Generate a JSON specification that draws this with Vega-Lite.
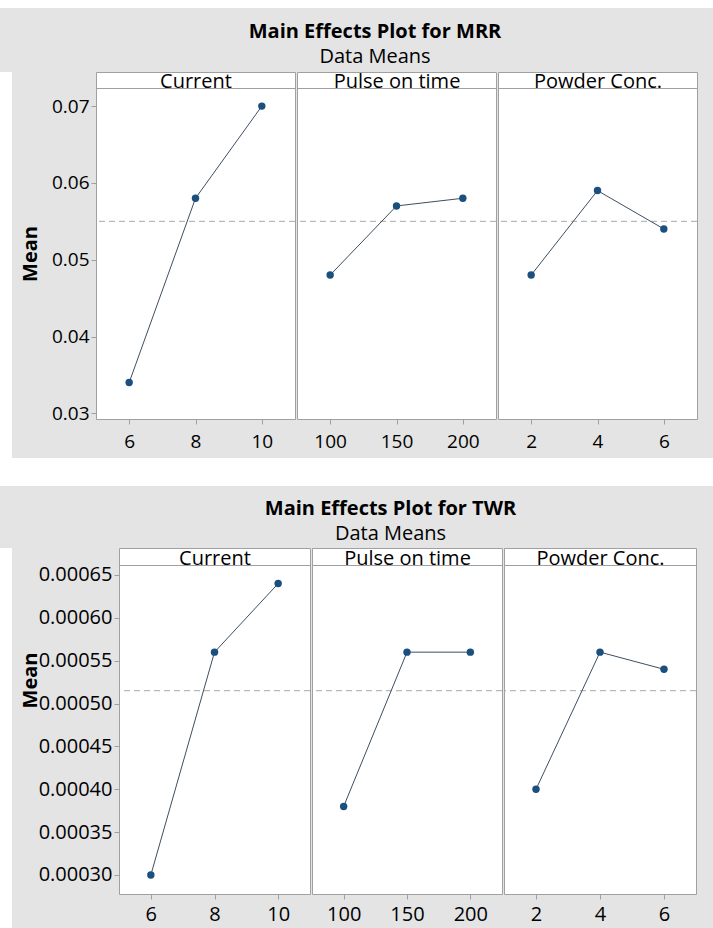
{
  "$schema": "https://vega.github.io/schema/vega-lite/v6.json",
  "padding": 0,
  "background": "#e4e4e4",
  "config": {
    "font": "Open Sans",
    "view": {"fill": null, "stroke": null},
    "axis": {"grid": false, "domain": false, "tickColor": "#a0a0a0", "tickSize": 5, "labelColor": "black", "titleColor": "black"}
  },
  "datasets": {
    "mrr": [
      {"factor": "Current", "level": 6, "mean": 0.034},
      {"factor": "Current", "level": 8, "mean": 0.058},
      {"factor": "Current", "level": 10, "mean": 0.070},
      {"factor": "Pulse on time", "level": 100, "mean": 0.048},
      {"factor": "Pulse on time", "level": 150, "mean": 0.057},
      {"factor": "Pulse on time", "level": 200, "mean": 0.058},
      {"factor": "Powder Conc.", "level": 2, "mean": 0.048},
      {"factor": "Powder Conc.", "level": 4, "mean": 0.059},
      {"factor": "Powder Conc.", "level": 6, "mean": 0.054}
    ],
    "twr": [
      {"factor": "Current", "level": 6, "mean": 0.00030},
      {"factor": "Current", "level": 8, "mean": 0.00056},
      {"factor": "Current", "level": 10, "mean": 0.00064},
      {"factor": "Pulse on time", "level": 100, "mean": 0.00038},
      {"factor": "Pulse on time", "level": 150, "mean": 0.00056},
      {"factor": "Pulse on time", "level": 200, "mean": 0.00056},
      {"factor": "Powder Conc.", "level": 2, "mean": 0.00040},
      {"factor": "Powder Conc.", "level": 4, "mean": 0.00056},
      {"factor": "Powder Conc.", "level": 6, "mean": 0.00054}
    ],
    "grand": [
      {"response": "MRR", "value": 0.055},
      {"response": "TWR", "value": 0.000515}
    ],
    "blank": [{}]
  },
  "spacing": 0,
  "vconcat": [
    {"width": 713, "height": 8, "data": {"name": "blank"}, "mark": {"type": "point", "opacity": 0}, "view": {"fill": "white"}},
    {"width": 713, "height": 13, "data": {"name": "blank"}, "mark": {"type": "point", "opacity": 0}},
    {
      "spacing": 0,
      "title": {"text": "Main Effects Plot for MRR", "subtitle": "Data Means", "anchor": "middle", "frame": "bounds", "fontSize": 20, "fontWeight": "bold", "color": "black", "subtitleFontSize": 20, "subtitleColor": "black", "subtitlePadding": 5, "offset": 4, "dx": 26},
      "hconcat": [
        {"width": 12, "height": 386, "data": {"name": "blank"}, "mark": {"type": "point", "opacity": 0}, "view": {"fill": "white"}},
        {"width": 7, "height": 386, "data": {"name": "blank"}, "mark": {"type": "point", "opacity": 0}},
        {"width": 199, "height": 347, "view": {"fill": "white", "stroke": "#a0a0a0"},
         "data": {"name": "mrr"}, "transform": [{"filter": "datum.factor === 'Current'"}],
         "resolve": {"axis": {"x": "independent"}},
         "layer": [
           {"data": {"name": "grand"}, "transform": [{"filter": "datum.response === 'MRR'"}],
            "mark": {"type": "rule", "strokeDash": [6, 4], "color": "#a8a8a8", "strokeWidth": 1},
            "encoding": {"y": {"field": "value", "type": "quantitative", "scale": {"domain": [0.029258, 0.07444], "nice": false, "zero": false},
              "axis": {"title": "Mean", "titleFontSize": 20, "titleFontWeight": "bold", "titlePadding": 11, "titleY": 181.5, "labelFontSize": 19, "labelPadding": 2, "values": [0.03, 0.04, 0.05, 0.06, 0.07], "format": ".2f"}}}},
           {"mark": {"type": "line", "color": "#3d4f63", "strokeWidth": 1},
            "encoding": {
              "x": {"field": "level", "type": "ordinal", "scale": {"type": "point", "padding": 0.5},
                "axis": {"orient": "top", "offset": -16, "title": "Current", "labels": false, "ticks": false, "domain": true, "domainColor": "#a0a0a0", "titleFontSize": 20, "titleFontWeight": "normal", "titlePadding": -3}},
              "y": {"field": "mean", "type": "quantitative", "scale": {"domain": [0.029258, 0.07444], "nice": false, "zero": false},
                "axis": {"title": "Mean", "titleFontSize": 20, "titleFontWeight": "bold", "titlePadding": 11, "titleY": 181.5, "labelFontSize": 19, "labelPadding": 2, "values": [0.03, 0.04, 0.05, 0.06, 0.07], "format": ".2f"}}}},
           {"mark": {"type": "point", "filled": true, "size": 55, "color": "#1b4f7e", "opacity": 1},
            "encoding": {
              "x": {"field": "level", "type": "ordinal", "scale": {"type": "point", "padding": 0.5}, "axis": {"orient": "bottom", "title": null, "labelAngle": 0, "labelFontSize": 19, "labelPadding": 8}},
              "y": {"field": "mean", "type": "quantitative", "scale": {"domain": [0.029258, 0.07444], "nice": false, "zero": false},
                "axis": {"title": "Mean", "titleFontSize": 20, "titleFontWeight": "bold", "titlePadding": 11, "titleY": 181.5, "labelFontSize": 19, "labelPadding": 2, "values": [0.03, 0.04, 0.05, 0.06, 0.07], "format": ".2f"}}}}
         ]},
        {"width": 199, "height": 347, "view": {"fill": "white", "stroke": "#a0a0a0"},
         "data": {"name": "mrr"}, "transform": [{"filter": "datum.factor === 'Pulse on time'"}],
         "resolve": {"axis": {"x": "independent"}},
         "layer": [
           {"data": {"name": "grand"}, "transform": [{"filter": "datum.response === 'MRR'"}],
            "mark": {"type": "rule", "strokeDash": [6, 4], "color": "#a8a8a8", "strokeWidth": 1},
            "encoding": {"y": {"field": "value", "type": "quantitative", "scale": {"domain": [0.029258, 0.07444], "nice": false, "zero": false}, "axis": null}}},
           {"mark": {"type": "line", "color": "#3d4f63", "strokeWidth": 1},
            "encoding": {
              "x": {"field": "level", "type": "ordinal", "scale": {"type": "point", "padding": 0.5},
                "axis": {"orient": "top", "offset": -16, "title": "Pulse on time", "labels": false, "ticks": false, "domain": true, "domainColor": "#a0a0a0", "titleFontSize": 20, "titleFontWeight": "normal", "titlePadding": -3}},
              "y": {"field": "mean", "type": "quantitative", "scale": {"domain": [0.029258, 0.07444], "nice": false, "zero": false}, "axis": null}}},
           {"mark": {"type": "point", "filled": true, "size": 55, "color": "#1b4f7e", "opacity": 1},
            "encoding": {
              "x": {"field": "level", "type": "ordinal", "scale": {"type": "point", "padding": 0.5}, "axis": {"orient": "bottom", "title": null, "labelAngle": 0, "labelFontSize": 19, "labelPadding": 8}},
              "y": {"field": "mean", "type": "quantitative", "scale": {"domain": [0.029258, 0.07444], "nice": false, "zero": false}, "axis": null}}}
         ]},
        {"width": 199, "height": 347, "view": {"fill": "white", "stroke": "#a0a0a0"},
         "data": {"name": "mrr"}, "transform": [{"filter": "datum.factor === 'Powder Conc.'"}],
         "resolve": {"axis": {"x": "independent"}},
         "layer": [
           {"data": {"name": "grand"}, "transform": [{"filter": "datum.response === 'MRR'"}],
            "mark": {"type": "rule", "strokeDash": [6, 4], "color": "#a8a8a8", "strokeWidth": 1},
            "encoding": {"y": {"field": "value", "type": "quantitative", "scale": {"domain": [0.029258, 0.07444], "nice": false, "zero": false}, "axis": null}}},
           {"mark": {"type": "line", "color": "#3d4f63", "strokeWidth": 1},
            "encoding": {
              "x": {"field": "level", "type": "ordinal", "scale": {"type": "point", "padding": 0.5},
                "axis": {"orient": "top", "offset": -16, "title": "Powder Conc.", "labels": false, "ticks": false, "domain": true, "domainColor": "#a0a0a0", "titleFontSize": 20, "titleFontWeight": "normal", "titlePadding": -3}},
              "y": {"field": "mean", "type": "quantitative", "scale": {"domain": [0.029258, 0.07444], "nice": false, "zero": false}, "axis": null}}},
           {"mark": {"type": "point", "filled": true, "size": 55, "color": "#1b4f7e", "opacity": 1},
            "encoding": {
              "x": {"field": "level", "type": "ordinal", "scale": {"type": "point", "padding": 0.5}, "axis": {"orient": "bottom", "title": null, "labelAngle": 0, "labelFontSize": 19, "labelPadding": 8}},
              "y": {"field": "mean", "type": "quantitative", "scale": {"domain": [0.029258, 0.07444], "nice": false, "zero": false}, "axis": null}}}
         ]}
      ]
    },
    {"width": 713, "height": 28, "data": {"name": "blank"}, "mark": {"type": "point", "opacity": 0}, "view": {"fill": "white"}},
    {"width": 713, "height": 12, "data": {"name": "blank"}, "mark": {"type": "point", "opacity": 0}},
    {
      "spacing": 0,
      "title": {"text": "Main Effects Plot for TWR", "subtitle": "Data Means", "anchor": "middle", "frame": "bounds", "fontSize": 20, "fontWeight": "bold", "color": "black", "subtitleFontSize": 20, "subtitleColor": "black", "subtitlePadding": 5, "offset": 4, "dx": 42},
      "hconcat": [
        {"width": 12, "height": 380, "data": {"name": "blank"}, "mark": {"type": "point", "opacity": 0}, "view": {"fill": "white"}},
        {"width": 7, "height": 380, "data": {"name": "blank"}, "mark": {"type": "point", "opacity": 0}},
        {"width": 191, "height": 346, "view": {"fill": "white", "stroke": "#a0a0a0"},
         "data": {"name": "twr"}, "transform": [{"filter": "datum.factor === 'Current'"}],
         "resolve": {"axis": {"x": "independent"}},
         "layer": [
           {"data": {"name": "grand"}, "transform": [{"filter": "datum.response === 'TWR'"}],
            "mark": {"type": "rule", "strokeDash": [6, 4], "color": "#a8a8a8", "strokeWidth": 1},
            "encoding": {"y": {"field": "value", "type": "quantitative", "scale": {"domain": [0.00027783, 0.0006815], "nice": false, "zero": false},
              "axis": {"title": "Mean", "titleFontSize": 20, "titleFontWeight": "bold", "titlePadding": -2, "titleY": 132, "labelFontSize": 20, "labelPadding": 2, "values": [0.0003, 0.00035, 0.0004, 0.00045, 0.0005, 0.00055, 0.0006, 0.00065], "format": ".5f"}}}},
           {"mark": {"type": "line", "color": "#3d4f63", "strokeWidth": 1},
            "encoding": {
              "x": {"field": "level", "type": "ordinal", "scale": {"type": "point", "padding": 0.5},
                "axis": {"orient": "top", "offset": -17, "title": "Current", "labels": false, "ticks": false, "domain": true, "domainColor": "#a0a0a0", "titleFontSize": 20, "titleFontWeight": "normal", "titlePadding": -3}},
              "y": {"field": "mean", "type": "quantitative", "scale": {"domain": [0.00027783, 0.0006815], "nice": false, "zero": false},
                "axis": {"title": "Mean", "titleFontSize": 20, "titleFontWeight": "bold", "titlePadding": -2, "titleY": 132, "labelFontSize": 20, "labelPadding": 2, "values": [0.0003, 0.00035, 0.0004, 0.00045, 0.0005, 0.00055, 0.0006, 0.00065], "format": ".5f"}}}},
           {"mark": {"type": "point", "filled": true, "size": 55, "color": "#1b4f7e", "opacity": 1},
            "encoding": {
              "x": {"field": "level", "type": "ordinal", "scale": {"type": "point", "padding": 0.5}, "axis": {"orient": "bottom", "title": null, "labelAngle": 0, "labelFontSize": 20, "labelPadding": 5.5}},
              "y": {"field": "mean", "type": "quantitative", "scale": {"domain": [0.00027783, 0.0006815], "nice": false, "zero": false},
                "axis": {"title": "Mean", "titleFontSize": 20, "titleFontWeight": "bold", "titlePadding": -2, "titleY": 132, "labelFontSize": 20, "labelPadding": 2, "values": [0.0003, 0.00035, 0.0004, 0.00045, 0.0005, 0.00055, 0.0006, 0.00065], "format": ".5f"}}}}
         ]},
        {"width": 190, "height": 346, "view": {"fill": "white", "stroke": "#a0a0a0"},
         "data": {"name": "twr"}, "transform": [{"filter": "datum.factor === 'Pulse on time'"}],
         "resolve": {"axis": {"x": "independent"}},
         "layer": [
           {"data": {"name": "grand"}, "transform": [{"filter": "datum.response === 'TWR'"}],
            "mark": {"type": "rule", "strokeDash": [6, 4], "color": "#a8a8a8", "strokeWidth": 1},
            "encoding": {"y": {"field": "value", "type": "quantitative", "scale": {"domain": [0.00027783, 0.0006815], "nice": false, "zero": false}, "axis": null}}},
           {"mark": {"type": "line", "color": "#3d4f63", "strokeWidth": 1},
            "encoding": {
              "x": {"field": "level", "type": "ordinal", "scale": {"type": "point", "padding": 0.5},
                "axis": {"orient": "top", "offset": -17, "title": "Pulse on time", "labels": false, "ticks": false, "domain": true, "domainColor": "#a0a0a0", "titleFontSize": 20, "titleFontWeight": "normal", "titlePadding": -3}},
              "y": {"field": "mean", "type": "quantitative", "scale": {"domain": [0.00027783, 0.0006815], "nice": false, "zero": false}, "axis": null}}},
           {"mark": {"type": "point", "filled": true, "size": 55, "color": "#1b4f7e", "opacity": 1},
            "encoding": {
              "x": {"field": "level", "type": "ordinal", "scale": {"type": "point", "padding": 0.5}, "axis": {"orient": "bottom", "title": null, "labelAngle": 0, "labelFontSize": 20, "labelPadding": 5.5}},
              "y": {"field": "mean", "type": "quantitative", "scale": {"domain": [0.00027783, 0.0006815], "nice": false, "zero": false}, "axis": null}}}
         ]},
        {"width": 192, "height": 346, "view": {"fill": "white", "stroke": "#a0a0a0"},
         "data": {"name": "twr"}, "transform": [{"filter": "datum.factor === 'Powder Conc.'"}],
         "resolve": {"axis": {"x": "independent"}},
         "layer": [
           {"data": {"name": "grand"}, "transform": [{"filter": "datum.response === 'TWR'"}],
            "mark": {"type": "rule", "strokeDash": [6, 4], "color": "#a8a8a8", "strokeWidth": 1},
            "encoding": {"y": {"field": "value", "type": "quantitative", "scale": {"domain": [0.00027783, 0.0006815], "nice": false, "zero": false}, "axis": null}}},
           {"mark": {"type": "line", "color": "#3d4f63", "strokeWidth": 1},
            "encoding": {
              "x": {"field": "level", "type": "ordinal", "scale": {"type": "point", "padding": 0.5},
                "axis": {"orient": "top", "offset": -17, "title": "Powder Conc.", "labels": false, "ticks": false, "domain": true, "domainColor": "#a0a0a0", "titleFontSize": 20, "titleFontWeight": "normal", "titlePadding": -3}},
              "y": {"field": "mean", "type": "quantitative", "scale": {"domain": [0.00027783, 0.0006815], "nice": false, "zero": false}, "axis": null}}},
           {"mark": {"type": "point", "filled": true, "size": 55, "color": "#1b4f7e", "opacity": 1},
            "encoding": {
              "x": {"field": "level", "type": "ordinal", "scale": {"type": "point", "padding": 0.5}, "axis": {"orient": "bottom", "title": null, "labelAngle": 0, "labelFontSize": 20, "labelPadding": 5.5}},
              "y": {"field": "mean", "type": "quantitative", "scale": {"domain": [0.00027783, 0.0006815], "nice": false, "zero": false}, "axis": null}}}
         ]}
      ]
    }
  ]
}
